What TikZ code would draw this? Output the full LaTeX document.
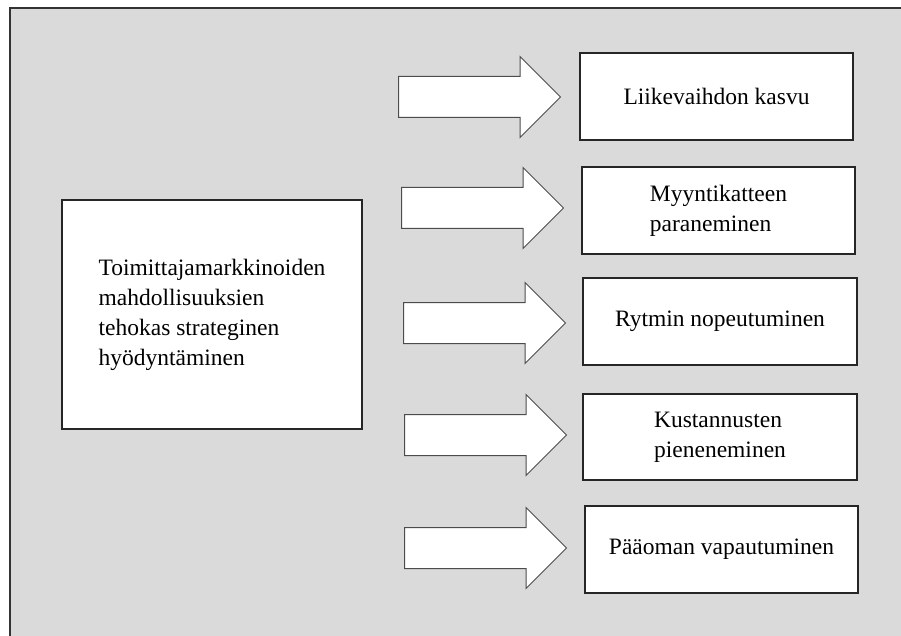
\documentclass[tikz,border=0pt]{standalone}
\usepackage{fontspec}
\setmainfont{Liberation Serif}
\usetikzlibrary{shapes.arrows}
\begin{document}
\begin{tikzpicture}[x=1pt,y=-1pt,
  box/.style={draw=black!85, line width=1.4pt, fill=white,
    font=\fontsize{23.5}{30}\selectfont, align=left, inner sep=0pt},
  bigarrow/.style={single arrow, draw=black!70, line width=1pt, fill=white,
    inner xsep=0pt, inner ysep=20pt, minimum height=162pt,
    single arrow head extend=20pt, single arrow tip angle=90, anchor=tail}]
\useasboundingbox (0,0) rectangle (901,636);
\fill[white] (0,0) rectangle (901,636);
\draw[draw=black!80, line width=1.5pt, fill={rgb,255:red,218;green,218;blue,218}]
  (10,8) rectangle (960,700);
% main box
\node[box, minimum width=300pt, minimum height=229pt] (main) at (212,314.5)
  {Toimittajamarkkinoiden\\mahdollisuuksien\\tehokas strateginen\\hyödyntäminen};
% result boxes
\node[box, minimum width=273pt, minimum height=87pt] (b1) at (716.5,96.5) {Liikevaihdon kasvu};
\node[box, minimum width=273pt, minimum height=87pt] (b2) at (718.5,210.5) {Myyntikatteen\\paraneminen};
\node[box, minimum width=274pt, minimum height=87pt] (b3) at (720,321.5) {Rytmin nopeutuminen};
\node[box, minimum width=274pt, minimum height=86pt] (b4) at (720,437) {Kustannusten\\pieneneminen};
\node[box, minimum width=273pt, minimum height=87pt] (b5) at (721.5,549.5) {Pääoman vapautuminen};
% block arrows
\node[bigarrow] (a1) at (398,97) {};
\node[bigarrow] (a2) at (401,208) {};
\node[bigarrow] (a3) at (403,323) {};
\node[bigarrow] (a4) at (404,435) {};
\node[bigarrow] (a5) at (404,548) {};
\end{tikzpicture}
\end{document}
